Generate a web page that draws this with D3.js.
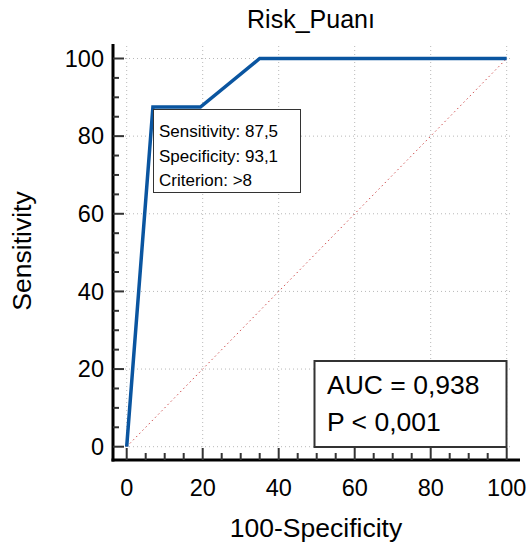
<!DOCTYPE html>
<html>
<head>
<meta charset="utf-8">
<script src="https://cdn.jsdelivr.net/npm/d3@7"></script>
<style>
body { margin: 0; background: #fff; }
svg { display: block; font-family: Arial, "Liberation Sans", sans-serif; }
</style>
</head>
<body>
<svg id="chart" width="529" height="548"></svg>
<script>
// Data
const fpr = [0, 6.9, 19.4, 35.0, 100];       // 100-Specificity
const tpr = [0, 87.5, 87.5, 100, 100];      // Sensitivity
const majorTicks = [0, 20, 40, 60, 80, 100];
const minorTicks = d3.range(0, 101, 5);
const title = "Risk_Puanı";
const xLabel = "100-Specificity";
const yLabel = "Sensitivity";
const cutLines = ["Sensitivity: 87,5", "Specificity: 93,1", "Criterion: >8"];
const aucLines = ["AUC = 0,938", "P < 0,001"];

const svg = d3.select("#chart");
const x = d3.scaleLinear().domain([0, 100]).range([126.7, 506.7]);
const y = d3.scaleLinear().domain([0, 100]).range([446.7, 58.5]);
const spineX = 113, spineY = 460;

// grid
const grid = svg.append("g").attr("stroke", "#b8b8b8").attr("stroke-width", 1).attr("stroke-dasharray", "1,3");
grid.selectAll("line.v").data(majorTicks).join("line")
  .attr("x1", d => x(d)).attr("x2", d => x(d)).attr("y1", 46).attr("y2", y(0));
grid.selectAll("line.h").data(majorTicks).join("line")
  .attr("y1", d => y(d)).attr("y2", d => y(d)).attr("x1", spineX).attr("x2", 512);

// diagonal
svg.append("line").attr("x1", x(0)).attr("y1", y(0)).attr("x2", x(100)).attr("y2", y(100))
  .attr("stroke", "#d05050").attr("stroke-width", 1).attr("stroke-dasharray", "1.5,3");

// ROC curve
const line = d3.line().x((d, i) => x(fpr[i])).y((d, i) => y(tpr[i]));
svg.append("path").datum(fpr).attr("d", line).attr("fill", "none")
  .attr("stroke", "#0a55a0").attr("stroke-width", 3.5).attr("stroke-linejoin", "miter");

// axes spines
const ax = svg.append("g");
ax.append("line").attr("x1", spineX).attr("x2", spineX).attr("y1", 44).attr("y2", spineY + 1.5)
  .attr("stroke", "#000").attr("stroke-width", 3);
ax.append("line").attr("x1", spineX - 1.5).attr("x2", 520).attr("y1", spineY).attr("y2", spineY)
  .attr("stroke", "#000").attr("stroke-width", 3);

// ticks
const tk = ax.append("g").attr("stroke", "#333").attr("stroke-width", 2);
tk.selectAll("line.ym").data(minorTicks).join("line")
  .attr("x1", spineX).attr("x2", d => spineX + (d % 20 === 0 ? 11 : 6))
  .attr("y1", d => y(d)).attr("y2", d => y(d));
tk.selectAll("line.xm").data(minorTicks).join("line")
  .attr("y1", spineY).attr("y2", d => spineY - (d % 20 === 0 ? 12 : 7))
  .attr("x1", d => x(d)).attr("x2", d => x(d));

// tick labels
ax.selectAll("text.yt").data(majorTicks).join("text")
  .attr("x", 104).attr("y", d => y(d)).attr("dy", "0.35em")
  .attr("text-anchor", "end").attr("font-size", 23.5).attr("fill", "#000").text(d => d);
ax.selectAll("text.xt").data(majorTicks).join("text")
  .attr("x", d => x(d)).attr("y", 496)
  .attr("text-anchor", "middle").attr("font-size", 23.5).attr("fill", "#000").text(d => d);

// labels
svg.append("text").attr("x", 311).attr("y", 28).attr("text-anchor", "middle")
  .attr("font-size", 25).text(title);
svg.append("text").attr("x", 316).attr("y", 537).attr("text-anchor", "middle")
  .attr("font-size", 26.5).text(xLabel);
svg.append("text").attr("transform", "translate(31,251) rotate(-90)").attr("text-anchor", "middle")
  .attr("font-size", 26.5).text(yLabel);

// cut-off box
const b1 = svg.append("g");
b1.append("rect").attr("x", 153.5).attr("y", 109.5).attr("width", 147).attr("height", 83)
  .attr("fill", "#fff").attr("stroke", "#333").attr("stroke-width", 1);
b1.selectAll("text").data(cutLines).join("text")
  .attr("x", 159).attr("y", (d, i) => 137 + i * 24.5)
  .attr("font-size", 17).text(d => d);

// AUC box
const b2 = svg.append("g");
b2.append("rect").attr("x", 314.5).attr("y", 361).attr("width", 192).attr("height", 86)
  .attr("fill", "#fff").attr("stroke", "#333").attr("stroke-width", 2);
b2.selectAll("text").data(aucLines).join("text")
  .attr("x", 327).attr("y", (d, i) => 394 + i * 37)
  .attr("font-size", 26.5).text(d => d);
</script>
</body>
</html>
